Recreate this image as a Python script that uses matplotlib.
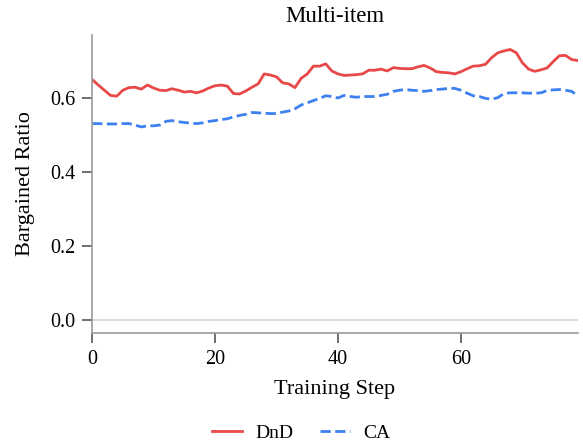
import numpy as np
import matplotlib
matplotlib.use("Agg")
import matplotlib.pyplot as plt

# values
steps = list(range(80))
dnd = [0.649, 0.634, 0.620, 0.606, 0.604, 0.620, 0.627, 0.628, 0.623, 0.634,
       0.626, 0.620, 0.619, 0.624, 0.620, 0.615, 0.617, 0.613, 0.618, 0.626,
       0.632, 0.634, 0.631, 0.611, 0.610, 0.618, 0.628, 0.637, 0.664, 0.661,
       0.656, 0.640, 0.637, 0.627, 0.652, 0.664, 0.685, 0.685, 0.691, 0.672,
       0.664, 0.660, 0.661, 0.662, 0.664, 0.674, 0.674, 0.677, 0.672, 0.681,
       0.679, 0.678, 0.678, 0.683, 0.687, 0.680, 0.670, 0.668, 0.667, 0.664,
       0.670, 0.678, 0.685, 0.686, 0.690, 0.708, 0.721, 0.726, 0.730, 0.721,
       0.694, 0.677, 0.671, 0.675, 0.680, 0.697, 0.713, 0.714, 0.703, 0.700]
ca = [0.530, 0.530, 0.529, 0.529, 0.529, 0.530, 0.530, 0.526, 0.521, 0.524,
      0.524, 0.526, 0.536, 0.538, 0.535, 0.533, 0.531, 0.530, 0.532, 0.536,
      0.538, 0.541, 0.543, 0.548, 0.552, 0.555, 0.560, 0.559, 0.558, 0.557,
      0.557, 0.561, 0.564, 0.570, 0.580, 0.586, 0.592, 0.598, 0.605, 0.603,
      0.599, 0.606, 0.603, 0.601, 0.603, 0.603, 0.603, 0.606, 0.609, 0.617,
      0.620, 0.622, 0.620, 0.619, 0.617, 0.619, 0.622, 0.623, 0.625, 0.625,
      0.620, 0.612, 0.605, 0.603, 0.598, 0.596, 0.600, 0.611, 0.613, 0.613,
      0.613, 0.612, 0.612, 0.613, 0.619, 0.621, 0.622, 0.620, 0.617, 0.605]
yticks = [0.0, 0.2, 0.4, 0.6]
xticks = [0, 20, 40, 60]

plt.rcParams['font.family'] = ['Liberation Serif', 'DejaVu Serif']

fig = plt.figure(figsize=(5.83, 4.44), dpi=100)
ax = fig.add_axes([0.158, 0.25, 0.833, 0.672])

ax.axhline(0, color='#d4d4dc', linewidth=1.2, zorder=0)
ax.plot(steps, dnd, color='#e84848', linewidth=2, label='DnD')
ax.plot(steps, ca, color='#3d80f0', linewidth=2, linestyle='--', label='CA')

ax.set_xlim(0, 79)
ax.set_ylim(-0.035, 0.77)
ax.set_xticks(xticks)
ax.set_yticks(yticks)
ax.set_yticklabels([f"{v:.1f}" for v in yticks])

for side in ['top', 'right']:
    ax.spines[side].set_visible(False)
for side in ['left', 'bottom']:
    ax.spines[side].set_color('#999999')
    ax.spines[side].set_linewidth(1.2)
ax.tick_params(axis='both', direction='out', length=7, width=1.2,
               color='#555555', labelsize=14.5, pad=5)

ax.set_xlabel('Training Step', fontsize=16, labelpad=8)
ax.set_ylabel('Bargained Ratio', fontsize=16, labelpad=11)
ax.set_title('Multi-item', fontsize=16.5, pad=9)

fig.legend(loc='lower center', bbox_to_anchor=(0.517, -0.034), ncol=2,
           frameon=False, fontsize=14, handlelength=1.5, handletextpad=0.7,
           columnspacing=1.4)

fig.savefig('out.png', dpi=100)
plt.close(fig)
